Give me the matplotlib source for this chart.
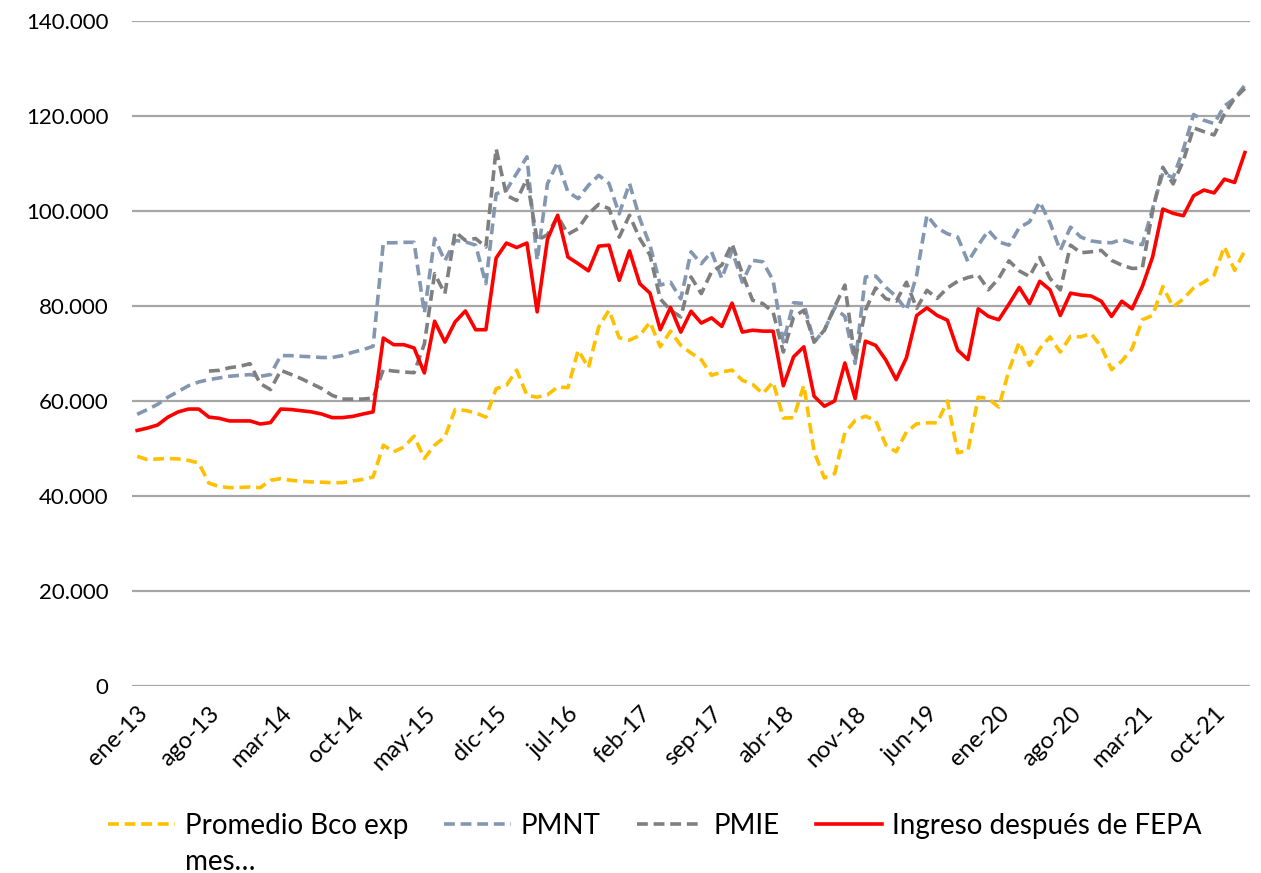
import numpy as np
import matplotlib
matplotlib.use("Agg")
import matplotlib.pyplot as plt
from matplotlib.ticker import FuncFormatter

plt.rcParams['font.family'] = ['Lato', 'DejaVu Sans']

# meses ene-13 .. ene-22
meses = ['ene', 'feb', 'mar', 'abr', 'may', 'jun',
         'jul', 'ago', 'sep', 'oct', 'nov', 'dic']
anios = ['13', '14', '15', '16', '17', '18', '19', '20', '21', '22']
fechas = [m + '-' + a for a in anios for m in meses][:109]

promedio_bco = [
    48350, 47650, 47800, 47900, 47800, 47500, 46950, 42700, 42000, 41750,
    41800, 41900, 41750, 43300, 43650, 43300, 43100, 42950, 42900, 42800,
    42800, 43150, 43500, 44000, 50700, 49300, 50300, 52600, 47900, 50700,
    52400, 58200, 58000, 57500, 56600, 62600, 63300, 66500, 61200, 60800,
    61300, 62950, 62800, 70700, 67000, 75600, 79100, 73300, 72800, 73800,
    76600, 71400, 74700, 71700, 70100, 68700, 65400, 66100, 66500, 64350,
    63500, 61550, 64000, 56400, 56500, 63300, 49300, 43800, 44700, 53300,
    55900, 56800, 55900, 50700, 49300, 53500, 55200, 55400, 55400, 60000,
    49100, 49600, 60800, 60500, 58700, 66500, 72400, 67500, 71000, 73500,
    70300, 73600, 73500, 74200, 71400, 66600, 68400, 71000, 77100, 78000,
    84100, 79800, 81500, 83800, 85000, 86500, 92500, 87500, 91700]

pmnt = [
    57200, 58200, 59300, 60800, 62000, 63200, 64000, 64500, 64850, 65200,
    65400, 65550, 65200, 65550, 69550, 69550, 69400, 69300, 69150, 69150,
    69550, 70250, 70800, 71500, 93300, 93300, 93400, 93400, 78500, 94200,
    89500, 93800, 93500, 92800, 84700, 103600, 104400, 107900, 111400, 89600,
    105700, 110300, 104000, 102600, 105400, 107500, 105800, 99400, 105800, 98400,
    92800, 84400, 85000, 81500, 91400, 88900, 91400, 85800, 91700, 85000,
    89600, 89300, 85400, 72400, 80700, 80500, 72400, 74900, 79600, 77800,
    67900, 86100, 86300, 83900, 82000, 79100, 86500, 99100, 96400, 95200,
    94500, 89300, 92800, 95900, 93500, 92800, 96500, 97700, 101900, 97500,
    91700, 96600, 94500, 93700, 93400, 93300, 94000, 93300, 92900, 100500,
    108000, 107000, 113000, 120300, 119100, 118400, 122100, 123700, 126500]

pmie = [
    np.nan, np.nan, np.nan, np.nan, np.nan, np.nan, np.nan, 66300, 66450, 67000,
    67300, 67850, 63650, 62400, 66450, 65600, 64700, 63650, 62600, 61200,
    60400, 60400, 60400, 60600, 66600, 66300, 66100, 65950, 72000, 86800,
    82600, 95600, 93800, 94200, 92400, 113100, 103300, 102200, 106800, 93800,
    95000, 98900, 95100, 96300, 99400, 101400, 100500, 94500, 99100, 94200,
    90700, 81500, 79100, 77700, 86100, 82600, 87200, 88600, 93100, 86800,
    81200, 80500, 78700, 70300, 77700, 79100, 72400, 74900, 79800, 84400,
    68500, 79100, 83800, 81500, 81000, 85000, 79500, 83300, 81600, 83800,
    85200, 86000, 86500, 83400, 85800, 89500, 87400, 86200, 90200, 85800,
    83400, 92800, 91200, 91400, 91700, 89600, 88600, 87900, 88000, 100000,
    109200, 105700, 110600, 117500, 116700, 116000, 120400, 123700, 125800]

ingreso_fepa = [
    53800, 54300, 54950, 56600, 57700, 58300, 58300, 56600, 56350, 55800,
    55800, 55800, 55150, 55450, 58300, 58200, 57950, 57700, 57250, 56500,
    56500, 56750, 57250, 57700, 73250, 71850, 71850, 71150, 65900, 76800,
    72400, 76650, 78950, 75000, 75000, 90100, 93250, 92300, 93250, 78750,
    94000, 99100, 90300, 88900, 87400, 92600, 92800, 85400, 91600, 84700,
    82700, 75000, 79700, 74500, 78900, 76400, 77500, 75700, 80600, 74500,
    74900, 74700, 74700, 63200, 69300, 71400, 61000, 58900, 60000, 68000,
    60500, 72600, 71700, 68600, 64500, 69100, 78000, 79600, 78000, 77000,
    70700, 68700, 79400, 77800, 77100, 80400, 83900, 80500, 85200, 83400,
    78000, 82700, 82300, 82100, 81000, 77800, 81000, 79400, 84100, 90300,
    100400, 99500, 99000, 103200, 104400, 103800, 106700, 106000, 112300]

x = np.arange(len(fechas))

fig = plt.figure(figsize=(12.61, 8.73), dpi=100)
ax = fig.add_axes([0.1047, 0.2142, 0.8866, 0.7618])

ax.plot(x, promedio_bco, color='#FFC000', lw=2.6, dashes=(3, 1.6),
        label='Promedio Bco exp')
ax.plot(x, pmnt, color='#8497B0', lw=2.6, dashes=(3, 1.6), label='PMNT')
ax.plot(x, pmie, color='#7F7F7F', lw=2.6, dashes=(3, 1.6), label='PMIE')
ax.plot(x, ingreso_fepa, color='#FF0000', lw=2.6,
        label='Ingreso después de FEPA')

ax.set_xlim(-0.5, len(fechas) - 0.5)
ax.set_ylim(0, 140000)
ax.set_yticks(np.arange(0, 140001, 20000))
ax.yaxis.set_major_formatter(FuncFormatter(
    lambda v, p: '0' if v == 0 else f'{int(v):,}'.replace(',', '.')))
ax.grid(axis='y', color='#A6A6A6', lw=1.6)
ax.set_axisbelow(True)
for s in ax.spines.values():
    s.set_visible(False)

ticks = x[::7]
ax.set_xticks(ticks)
ax.set_xticklabels([fechas[i] for i in ticks], rotation=45, ha='right',
                   rotation_mode='anchor')
ax.tick_params(axis='x', length=0, pad=12, labelsize=17)
ax.tick_params(axis='y', length=0, pad=17, labelsize=16)

leg = fig.legend(loc='center left', bbox_to_anchor=(0.0856, 0.054), ncol=4,
                 frameon=False, fontsize=20, handlelength=2.4,
                 handletextpad=0.36, columnspacing=1.3,
                 borderpad=0, borderaxespad=0)

fig.canvas.draw()
bb = leg.get_texts()[0].get_window_extent()
fx, fy = fig.transFigure.inverted().transform((bb.x0, bb.y0))
fig.text(fx, fy - 0.012, 'mes…', fontsize=20, va='top', ha='left')

fig.savefig('out.png', dpi=100)
